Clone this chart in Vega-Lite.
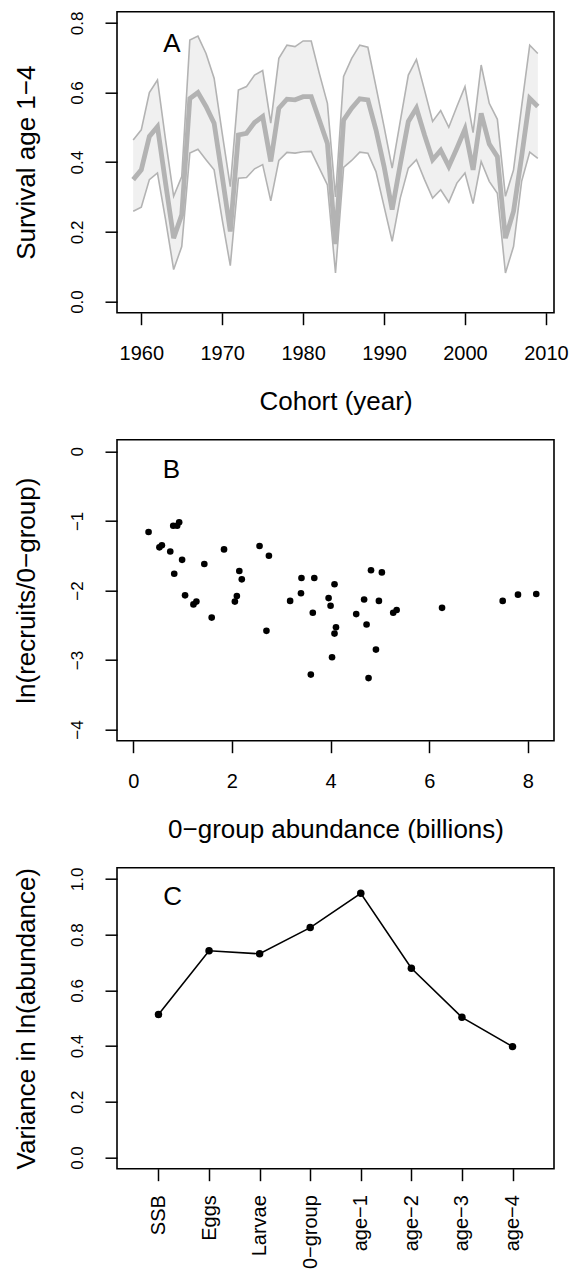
{
  "$schema": "https://vega.github.io/schema/vega-lite/v6.json",
  "padding": {"left": 12, "top": 9.7, "right": 0, "bottom": 0},
  "bounds": "flush",
  "spacing": 127,
  "config": {
    "view": {"stroke": "black", "strokeWidth": 1.6},
    "font": "Liberation Sans",
    "axis": {"grid": false, "domain": false, "tickColor": "black", "tickWidth": 1.5, "tickSize": 12,
      "labelColor": "black", "titleColor": "black", "labelFont": "Liberation Sans", "titleFont": "Liberation Sans",
      "titleFontWeight": "normal", "labelFlush": false, "labelOverlap": false, "labelBound": false}
  },
  "datasets": {
    "surv": [
      {"year": 1959, "lo": 0.259, "mean": 0.350, "hi": 0.464},
      {"year": 1960, "lo": 0.271, "mean": 0.378, "hi": 0.493},
      {"year": 1961, "lo": 0.350, "mean": 0.474, "hi": 0.600},
      {"year": 1962, "lo": 0.369, "mean": 0.502, "hi": 0.636},
      {"year": 1963, "lo": 0.235, "mean": 0.340, "hi": 0.464},
      {"year": 1964, "lo": 0.092, "mean": 0.182, "hi": 0.302},
      {"year": 1965, "lo": 0.158, "mean": 0.249, "hi": 0.359},
      {"year": 1966, "lo": 0.426, "mean": 0.583, "hi": 0.751},
      {"year": 1967, "lo": 0.437, "mean": 0.600, "hi": 0.762},
      {"year": 1968, "lo": 0.407, "mean": 0.560, "hi": 0.712},
      {"year": 1969, "lo": 0.378, "mean": 0.512, "hi": 0.641},
      {"year": 1970, "lo": 0.235, "mean": 0.359, "hi": 0.483},
      {"year": 1971, "lo": 0.103, "mean": 0.201, "hi": 0.330},
      {"year": 1972, "lo": 0.354, "mean": 0.478, "hi": 0.607},
      {"year": 1973, "lo": 0.356, "mean": 0.483, "hi": 0.617},
      {"year": 1974, "lo": 0.381, "mean": 0.514, "hi": 0.650},
      {"year": 1975, "lo": 0.393, "mean": 0.531, "hi": 0.663},
      {"year": 1976, "lo": 0.289, "mean": 0.402, "hi": 0.512},
      {"year": 1977, "lo": 0.405, "mean": 0.555, "hi": 0.698},
      {"year": 1978, "lo": 0.428, "mean": 0.581, "hi": 0.736},
      {"year": 1979, "lo": 0.426, "mean": 0.579, "hi": 0.732},
      {"year": 1980, "lo": 0.430, "mean": 0.588, "hi": 0.748},
      {"year": 1981, "lo": 0.431, "mean": 0.588, "hi": 0.748},
      {"year": 1982, "lo": 0.383, "mean": 0.521, "hi": 0.655},
      {"year": 1983, "lo": 0.335, "mean": 0.454, "hi": 0.569},
      {"year": 1984, "lo": 0.082, "mean": 0.165, "hi": 0.300},
      {"year": 1985, "lo": 0.385, "mean": 0.521, "hi": 0.646},
      {"year": 1986, "lo": 0.405, "mean": 0.555, "hi": 0.698},
      {"year": 1987, "lo": 0.429, "mean": 0.582, "hi": 0.736},
      {"year": 1988, "lo": 0.426, "mean": 0.579, "hi": 0.730},
      {"year": 1989, "lo": 0.373, "mean": 0.493, "hi": 0.617},
      {"year": 1990, "lo": 0.273, "mean": 0.388, "hi": 0.502},
      {"year": 1991, "lo": 0.173, "mean": 0.264, "hi": 0.383},
      {"year": 1992, "lo": 0.297, "mean": 0.393, "hi": 0.517},
      {"year": 1993, "lo": 0.383, "mean": 0.517, "hi": 0.650},
      {"year": 1994, "lo": 0.407, "mean": 0.555, "hi": 0.695},
      {"year": 1995, "lo": 0.350, "mean": 0.478, "hi": 0.607},
      {"year": 1996, "lo": 0.297, "mean": 0.407, "hi": 0.517},
      {"year": 1997, "lo": 0.321, "mean": 0.434, "hi": 0.548},
      {"year": 1998, "lo": 0.285, "mean": 0.388, "hi": 0.500},
      {"year": 1999, "lo": 0.340, "mean": 0.440, "hi": 0.560},
      {"year": 2000, "lo": 0.369, "mean": 0.495, "hi": 0.617},
      {"year": 2001, "lo": 0.281, "mean": 0.378, "hi": 0.485},
      {"year": 2002, "lo": 0.402, "mean": 0.540, "hi": 0.679},
      {"year": 2003, "lo": 0.345, "mean": 0.452, "hi": 0.569},
      {"year": 2004, "lo": 0.311, "mean": 0.416, "hi": 0.523},
      {"year": 2005, "lo": 0.082, "mean": 0.182, "hi": 0.302},
      {"year": 2006, "lo": 0.158, "mean": 0.259, "hi": 0.378},
      {"year": 2007, "lo": 0.345, "mean": 0.416, "hi": 0.560},
      {"year": 2008, "lo": 0.429, "mean": 0.583, "hi": 0.736},
      {"year": 2009, "lo": 0.411, "mean": 0.560, "hi": 0.712}
    ],
    "rec": [
      {"abund": 0.31, "lnr": -1.16}, {"abund": 0.53, "lnr": -1.38}, {"abund": 0.58, "lnr": -1.35},
      {"abund": 0.75, "lnr": -1.44}, {"abund": 0.81, "lnr": -1.07}, {"abund": 0.89, "lnr": -1.07},
      {"abund": 0.93, "lnr": -1.02}, {"abund": 0.83, "lnr": -1.76}, {"abund": 0.99, "lnr": -1.56},
      {"abund": 1.05, "lnr": -2.07}, {"abund": 1.22, "lnr": -2.20}, {"abund": 1.28, "lnr": -2.16},
      {"abund": 1.44, "lnr": -1.62}, {"abund": 1.59, "lnr": -2.39}, {"abund": 1.84, "lnr": -1.41},
      {"abund": 2.06, "lnr": -2.16}, {"abund": 2.10, "lnr": -2.08}, {"abund": 2.15, "lnr": -1.72},
      {"abund": 2.20, "lnr": -1.84}, {"abund": 2.56, "lnr": -1.36}, {"abund": 2.75, "lnr": -1.50},
      {"abund": 2.70, "lnr": -2.58}, {"abund": 3.18, "lnr": -2.15}, {"abund": 3.41, "lnr": -1.82},
      {"abund": 3.40, "lnr": -2.04}, {"abund": 3.67, "lnr": -1.82}, {"abund": 3.64, "lnr": -2.32},
      {"abund": 3.60, "lnr": -3.21}, {"abund": 3.96, "lnr": -2.11}, {"abund": 4.00, "lnr": -2.22},
      {"abund": 4.08, "lnr": -1.91}, {"abund": 4.11, "lnr": -2.53}, {"abund": 4.08, "lnr": -2.62},
      {"abund": 4.03, "lnr": -2.96}, {"abund": 4.52, "lnr": -2.34}, {"abund": 4.68, "lnr": -2.13},
      {"abund": 4.73, "lnr": -2.49}, {"abund": 4.77, "lnr": -3.26}, {"abund": 4.82, "lnr": -1.71},
      {"abund": 4.92, "lnr": -2.85}, {"abund": 4.98, "lnr": -2.15}, {"abund": 5.04, "lnr": -1.74},
      {"abund": 5.27, "lnr": -2.32}, {"abund": 5.34, "lnr": -2.28}, {"abund": 6.26, "lnr": -2.25},
      {"abund": 7.49, "lnr": -2.15}, {"abund": 7.80, "lnr": -2.06}, {"abund": 8.17, "lnr": -2.05}
    ],
    "var": [
      {"idx": 1, "stage": "SSB", "variance": 0.513},
      {"idx": 2, "stage": "Eggs", "variance": 0.742},
      {"idx": 3, "stage": "Larvae", "variance": 0.731},
      {"idx": 4, "stage": "0−group", "variance": 0.825},
      {"idx": 5, "stage": "age−1", "variance": 0.948},
      {"idx": 6, "stage": "age−2", "variance": 0.679},
      {"idx": 7, "stage": "age−3", "variance": 0.503},
      {"idx": 8, "stage": "age−4", "variance": 0.398}
    ],
    "labA": [{"panel": "A", "px": 1963.8, "py": 0.739}],
    "labB": [{"panel": "B", "px": 0.775, "py": -0.27}],
    "labC": [{"panel": "C", "px": 1.28, "py": 0.935}]
  },
  "vconcat": [
    {
      "width": 437, "height": 301,
      "layer": [
        {"data": {"name": "surv"}, "mark": {"type": "area", "color": "#f0f0f0", "opacity": 1},
         "encoding": {
           "x": {"field": "year", "type": "quantitative",
             "scale": {"domain": [1957, 2011], "nice": false, "zero": false},
             "axis": {"values": [1960, 1970, 1980, 1990, 2000, 2010], "format": "d", "title": "Cohort (year)",
               "labelFontSize": 20, "labelBaseline": "alphabetic", "labelPadding": 34.5, "labelAngle": 0,
               "titleFontSize": 26, "titleBaseline": "alphabetic", "titleY": 97}},
           "y": {"field": "lo", "type": "quantitative",
            "scale": {"domain": [-0.032, 0.832], "nice": false, "zero": false},
            "axis": {"values": [0, 0.2, 0.4, 0.6, 0.8], "format": ".1f", "title": "Survival age 1−4",
              "labelFontSize": 17, "labelAngle": -90, "labelAlign": "center", "labelBaseline": "alphabetic", "labelPadding": 22.3,
              "titleFontSize": 26, "titleAngle": -90, "titleBaseline": "alphabetic", "titleX": -83}},
           "y2": {"field": "hi"}}},
        {"data": {"name": "surv"}, "mark": {"type": "line", "color": "#b3b3b3", "strokeWidth": 1.6},
         "encoding": {"x": {"field": "year", "type": "quantitative"}, "y": {"field": "lo", "type": "quantitative"}}},
        {"data": {"name": "surv"}, "mark": {"type": "line", "color": "#b3b3b3", "strokeWidth": 1.6},
         "encoding": {"x": {"field": "year", "type": "quantitative"}, "y": {"field": "hi", "type": "quantitative"}}},
        {"data": {"name": "surv"}, "mark": {"type": "line", "color": "#b3b3b3", "strokeWidth": 4.8},
         "encoding": {"x": {"field": "year", "type": "quantitative"}, "y": {"field": "mean", "type": "quantitative"}}},
        {"data": {"name": "labA"},
         "mark": {"type": "text", "fontSize": 26, "align": "center", "baseline": "middle", "color": "black"},
         "encoding": {"text": {"field": "panel", "type": "nominal"},
           "x": {"field": "px", "type": "quantitative"}, "y": {"field": "py", "type": "quantitative"}}}
      ]
    },
    {
      "width": 437, "height": 301,
      "layer": [
        {"data": {"name": "rec"}, "mark": {"type": "point", "filled": true, "color": "black", "size": 44, "opacity": 1},
         "encoding": {
           "x": {"field": "abund", "type": "quantitative",
             "scale": {"domain": [-0.33, 8.53], "nice": false, "zero": false},
             "axis": {"values": [0, 2, 4, 6, 8], "format": "d", "title": "0−group abundance (billions)",
               "labelFontSize": 20, "labelBaseline": "alphabetic", "labelPadding": 34.5, "labelAngle": 0,
               "titleFontSize": 26, "titleBaseline": "alphabetic", "titleY": 97}},
           "y": {"field": "lnr", "type": "quantitative",
             "scale": {"domain": [-4.16, 0.168], "nice": false, "zero": false},
             "axis": {"values": [-4, -3, -2, -1, 0], "format": "d", "title": "ln(recruits/0−group)",
               "labelFontSize": 17, "labelAngle": -90, "labelAlign": "center", "labelBaseline": "alphabetic", "labelPadding": 22.3,
               "titleFontSize": 26, "titleAngle": -90, "titleBaseline": "alphabetic", "titleX": -83}}}},
        {"data": {"name": "labB"},
         "mark": {"type": "text", "fontSize": 26, "align": "center", "baseline": "middle", "color": "black"},
         "encoding": {"text": {"field": "panel", "type": "nominal"},
           "x": {"field": "px", "type": "quantitative"}, "y": {"field": "py", "type": "quantitative"}}}
      ]
    },
    {
      "width": 437, "height": 301,
      "layer": [
        {"data": {"name": "var"}, "mark": {"type": "line", "color": "black", "strokeWidth": 1.6},
         "encoding": {
           "x": {"field": "idx", "type": "quantitative",
             "scale": {"domain": [0.18, 8.82], "nice": false, "zero": false},
             "axis": {"values": [1, 2, 3, 4, 5, 6, 7, 8], "title": null,
               "labelExpr": "['SSB','Eggs','Larvae','0−group','age−1','age−2','age−3','age−4'][datum.value - 1]",
               "labelFontSize": 20, "labelAngle": -90, "labelAlign": "right", "labelBaseline": "middle", "labelPadding": 14}},
           "y": {"field": "variance", "type": "quantitative",
             "scale": {"domain": [-0.04, 1.04], "nice": false, "zero": false},
             "axis": {"values": [0, 0.2, 0.4, 0.6, 0.8, 1.0], "format": ".1f", "title": "Variance in ln(abundance)",
               "labelFontSize": 17, "labelAngle": -90, "labelAlign": "center", "labelBaseline": "alphabetic", "labelPadding": 22.3,
               "titleFontSize": 26, "titleAngle": -90, "titleBaseline": "alphabetic", "titleX": -83}}}},
        {"data": {"name": "var"}, "mark": {"type": "point", "filled": true, "color": "black", "size": 56, "opacity": 1},
         "encoding": {"x": {"field": "idx", "type": "quantitative"}, "y": {"field": "variance", "type": "quantitative"}}},
        {"data": {"name": "labC"},
         "mark": {"type": "text", "fontSize": 26, "align": "center", "baseline": "middle", "color": "black"},
         "encoding": {"text": {"field": "panel", "type": "nominal"},
           "x": {"field": "px", "type": "quantitative"}, "y": {"field": "py", "type": "quantitative"}}}
      ]
    }
  ]
}
